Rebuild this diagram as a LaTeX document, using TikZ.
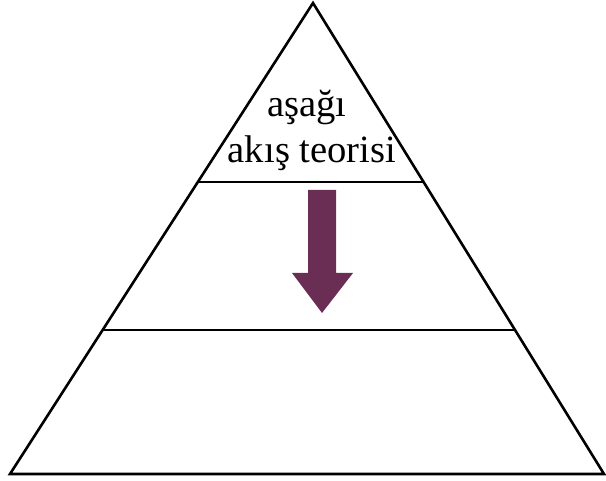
\documentclass[tikz,border=0pt]{standalone}
\usepackage{fontspec}
\setmainfont{Liberation Serif}
\definecolor{plum}{HTML}{6A2E55}
\begin{document}
\begin{tikzpicture}[x=1pt,y=-1pt,
  edge/.style={line width=2.6pt,line join=miter,black},
  label/.style={font=\fontsize{38.6}{40}\selectfont,anchor=base,inner sep=0pt},
  flow/.style={fill=plum,draw=none}]
\useasboundingbox (0,0) rectangle (606,481);
% pyramid corners
\coordinate (apex) at (313,3);
\coordinate (bl) at (10,474);
\coordinate (br) at (604,474);
\draw[edge] (apex) -- (br) -- (bl) -- cycle;
% layer dividers
\path (apex) -- (bl) coordinate[pos=0.38] (d1l);
\path (apex) -- (br) coordinate[pos=0.38] (d1r);
\path (apex) -- (bl) coordinate[pos=0.6943] (d2l);
\path (apex) -- (br) coordinate[pos=0.6943] (d2r);
\draw[edge] (d1l) -- (d1r);
\draw[edge] (d2l) -- (d2r);
% top label
\node[label] (t1) at (307,117) {aşağı};
\node[label] (t2) at (312,163) {akış teorisi};
% downward arrow
\coordinate (a1) at (308,190);
\coordinate (a2) at (336,190);
\coordinate (a3) at (336,273);
\coordinate (a4) at (353,273);
\coordinate (tip) at (322,313);
\coordinate (a6) at (292,273);
\coordinate (a7) at (308,273);
\fill[flow] (a1) -- (a2) -- (a3) -- (a4) -- (tip) -- (a6) -- (a7) -- cycle;
\end{tikzpicture}
\end{document}
